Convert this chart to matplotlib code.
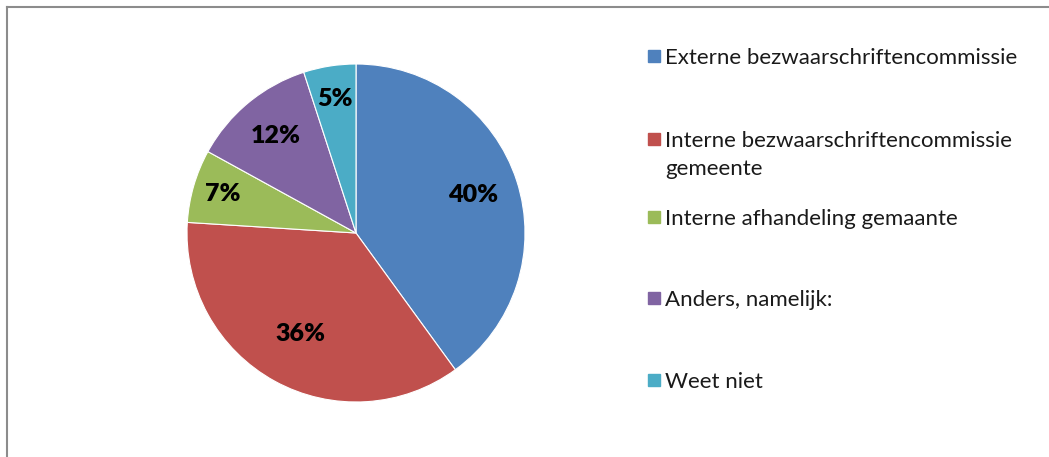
import numpy as np
import matplotlib.pyplot as plt
from matplotlib.patches import Rectangle

# data
categories = ["Externe bezwaarschriftencommissie",
              "Interne bezwaarschriftencommissie\ngemeente",
              "Interne afhandeling gemaante",
              "Anders, namelijk:",
              "Weet niet"]
values = [40, 36, 7, 12, 5]
colors = ["#4F81BD", "#C0504D", "#9BBB59", "#8064A2", "#4BACC6"]

plt.rcParams['font.family'] = ['Lato', 'DejaVu Sans']

W, H = 1049, 457
fig = plt.figure(figsize=(W / 100, H / 100), dpi=100)

# frame lines (top and left only are visible)
fig.add_artist(plt.Line2D([6.5 / W, 1.0], [1 - 6.5 / H, 1 - 6.5 / H],
                          color="#8c8c8c", lw=1.5))
fig.add_artist(plt.Line2D([6.5 / W, 6.5 / W], [0, 1 - 6.5 / H],
                          color="#8c8c8c", lw=1.5))

cx, cy, r = 356, 233, 169
ax = fig.add_axes([(cx - r) / W, (H - cy - r) / H, 2 * r / W, 2 * r / H])
wedges, texts, autotexts = ax.pie(values, colors=colors, startangle=90,
                                  counterclock=False, autopct='%d%%',
                                  pctdistance=0.75,
                                  wedgeprops=dict(edgecolor='white', linewidth=0.8),
                                  textprops=dict(fontsize=18, fontweight='heavy',
                                                 color='black'))
ax.set_aspect('equal')
ax.set_xlim(-1, 1)
ax.set_ylim(-1, 1)

# per-label radial distance (Excel best-fit placement)
label_r = [0.73, 0.68, 0.82, 0.745, 0.8]
for w, t, lr in zip(wedges, autotexts, label_r):
    ang = np.deg2rad((w.theta1 + w.theta2) / 2)
    t.set_position((lr * np.cos(ang), lr * np.sin(ang)))

# legend drawn manually
legend_y = [56, 139, 217, 298, 380]
for c, lab, y in zip(colors, categories, legend_y):
    fig.add_artist(Rectangle(((648) / W, 1 - (y + 6) / H), 12 / W, 12 / H,
                             color=c, transform=fig.transFigure))
    fig.text(665 / W, 1 - (y - 8) / H, lab, fontsize=16, va='top',
             ha='left', color='#1a1a1a', linespacing=1.5)

fig.savefig("out.png", dpi=100)
